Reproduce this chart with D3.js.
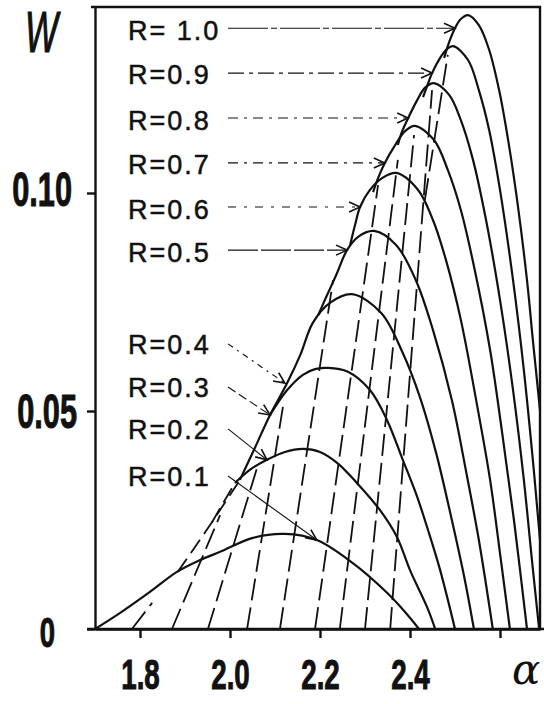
<!DOCTYPE html>
<html>
<head>
<meta charset="utf-8">
<script src="https://cdn.jsdelivr.net/npm/d3@7"></script>
<style>
html, body { margin: 0; padding: 0; background: #fff; }
svg { display: block; }
</style>
</head>
<body>
<div id="chart"></div>
<script>
// family parameter R, one arch per value
var rValues = [0.1, 0.2, 0.3, 0.4, 0.5, 0.6, 0.7, 0.8, 0.9, 1.0];
var rLabels = ['R=0.1', 'R=0.2', 'R=0.3', 'R=0.4', 'R=0.5', 'R=0.6', 'R=0.7', 'R=0.8', 'R=0.9', 'R= 1.0'];

// arches, [alpha, W]
var arch01 = [[1.700,0],[1.756,0.0037],[1.822,0.0085],[1.882,0.0131],[1.933,0.0158],[1.978,0.0177],[2.051,0.0209],[2.122,0.0218],[2.193,0.0204],[2.273,0.0151],[2.349,0.0083],[2.389,0.0039],[2.420,0]];
var arch02 = [[2.011,0.0335],[2.044,0.0365],[2.082,0.0388],[2.122,0.0406],[2.162,0.0413],[2.200,0.0406],[2.238,0.0381],[2.282,0.0335],[2.333,0.0273],[2.371,0.0211],[2.400,0.0135],[2.438,0.0050],[2.456,0]];
var arch03 = [[2.089,0.0491],[2.127,0.0548],[2.162,0.0583],[2.189,0.0596],[2.218,0.0599],[2.262,0.0590],[2.311,0.0548],[2.349,0.0479],[2.384,0.0388],[2.416,0.0303],[2.440,0.0227],[2.467,0.0135],[2.500,0]];
var arch04 = [[2.022,0.0342],[2.056,0.0417],[2.089,0.0491],[2.127,0.0564],[2.156,0.0628],[2.184,0.0702],[2.222,0.0748],[2.271,0.0768],[2.336,0.0725],[2.384,0.0633],[2.422,0.0532],[2.458,0.0404],[2.493,0.0250],[2.522,0.0112],[2.542,0]];
var arch05 = [[2.196,0.0720],[2.211,0.0755],[2.236,0.0812],[2.260,0.0869],[2.284,0.0899],[2.320,0.0913],[2.369,0.0881],[2.413,0.0800],[2.451,0.0686],[2.493,0.0525],[2.524,0.0365],[2.553,0.0204],[2.584,0]];
var arch06 = [[2.267,0.0881],[2.278,0.0927],[2.289,0.0968],[2.311,0.1007],[2.338,0.1034],[2.369,0.1046],[2.418,0.1007],[2.451,0.0938],[2.480,0.0846],[2.513,0.0709],[2.547,0.0525],[2.578,0.0342],[2.602,0.0158],[2.622,0]];
var arch07 = [[2.318,0.1002],[2.329,0.1034],[2.344,0.1069],[2.367,0.1110],[2.389,0.1142],[2.411,0.1154],[2.453,0.1122],[2.484,0.1053],[2.513,0.0961],[2.544,0.0823],[2.578,0.0640],[2.604,0.0456],[2.631,0.0250],[2.660,0]];
var arch08 = [[2.373,0.1110],[2.382,0.1140],[2.396,0.1172],[2.416,0.1213],[2.433,0.1241],[2.453,0.1252],[2.487,0.1225],[2.513,0.1167],[2.540,0.1076],[2.569,0.0938],[2.600,0.0755],[2.629,0.0548],[2.653,0.0342],[2.671,0.0158],[2.687,0]];
var arch09 = [[2.429,0.1220],[2.438,0.1245],[2.449,0.1275],[2.467,0.1310],[2.482,0.1330],[2.496,0.1337],[2.529,0.1305],[2.553,0.1236],[2.576,0.1144],[2.600,0.1007],[2.629,0.0800],[2.653,0.0594],[2.673,0.0388],[2.689,0.0204],[2.702,0.0067]];
var arch10 = [[2.476,0.1310],[2.487,0.1346],[2.500,0.1378],[2.513,0.1399],[2.529,0.1408],[2.553,0.1385],[2.576,0.1328],[2.598,0.1236],[2.618,0.1122],[2.638,0.0984],[2.660,0.0800],[2.673,0.0663],[2.691,0.0479],[2.707,0.0296]];
var arches = [arch01, arch02, arch03, arch04, arch05, arch06, arch07, arch08, arch09, arch10];

// dashed lower continuations of the left flanks
var tailEnvelope = [[1.884,0.0131],[1.956,0.0239],[2.022,0.0342]];
var tail02 = [[1.960,0.0245],[1.982,0.0284],[2.011,0.0335]];

// dashed hatching lines, [start, end]
var hatchLines = [
	[[1.782,0],[1.827,0.0060]],
	[[1.871,0],[1.978,0.0261]],
	[[1.951,0],[2.062,0.0376]],
	[[2.038,0],[2.120,0.0525]],
	[[2.111,0],[2.229,0.0800]],
	[[2.189,0],[2.329,0.1018]],
	[[2.244,0],[2.373,0.1076]],
	[[2.300,0],[2.409,0.1133]],
	[[2.356,0],[2.449,0.1236]],
	[[2.433,0.0984],[2.484,0.1317]]
];

// label rows (W) and the points the arrows touch
var labelW = [0.0351, 0.0459, 0.0555, 0.0654, 0.0865, 0.0963, 0.1067, 0.1167, 0.1273, 0.1374];
var arrowTips = [[2.193,0.0204],[2.082,0.0388],[2.089,0.0491],[2.122,0.0564],[2.260,0.0869],[2.289,0.0968],[2.344,0.1069],[2.396,0.1172],[2.449,0.1275],[2.500,0.1378]];

var xTicks = [1.8, 2.0, 2.2, 2.4, 2.6];
var xTickLabels = ['1.8', '2.0', '2.2', '2.4', ''];
var yTicks = [0, 0.05, 0.10];
var yTickLabels = ['0', '0.05', '0.10'];

var chartWidth = 544, chartHeight = 704;
var plotLeft = 95, plotRight = 540, plotTop = 7, plotBottom = 629;

var svg = d3.select('#chart')
	.append('svg')
	.attr('width', chartWidth)
	.attr('height', chartHeight);

var x = d3.scaleLinear().domain([1.7, 2.6889]).range([plotLeft, plotRight]);
var y = d3.scaleLinear().domain([0, 0.14266]).range([plotBottom, plotTop]);

var ink = '#111';

var defs = svg.append('defs');
defs.append('clipPath')
	.attr('id', 'plot')
	.append('rect')
	.attr('x', plotLeft).attr('y', plotTop)
	.attr('width', plotRight - plotLeft).attr('height', plotBottom - plotTop);

defs.append('marker')
	.attr('id', 'head')
	.attr('markerUnits', 'userSpaceOnUse')
	.attr('viewBox', '-12 -6 14 12')
	.attr('markerWidth', 14).attr('markerHeight', 12)
	.attr('refX', 0).attr('refY', 0)
	.attr('orient', 'auto')
	.append('path')
	.attr('d', 'M-11,-5 L0,0 L-11,5')
	.attr('fill', 'none')
	.attr('stroke', ink)
	.attr('stroke-width', 1.6);

var plot = svg.append('g').attr('clip-path', 'url(#plot)');

var smooth = d3.line()
	.x(function(d){ return x(d[0]); })
	.y(function(d){ return y(d[1]); })
	.curve(d3.curveCatmullRom.alpha(0.5));

var straight = d3.line()
	.x(function(d){ return x(d[0]); })
	.y(function(d){ return y(d[1]); });

// hatching
plot.selectAll('.hatch')
	.data(hatchLines)
	.enter()
	.append('path')
	.attr('class', 'hatch')
	.attr('d', straight)
	.attr('fill', 'none')
	.attr('stroke', ink)
	.attr('stroke-width', 1.8)
	.attr('stroke-dasharray', '22,7');

// dashed tails
plot.selectAll('.tail')
	.data([tailEnvelope, tail02])
	.enter()
	.append('path')
	.attr('class', 'tail')
	.attr('d', smooth)
	.attr('fill', 'none')
	.attr('stroke', ink)
	.attr('stroke-width', 1.8)
	.attr('stroke-dasharray', '16,7');

// arches
plot.selectAll('.arch')
	.data(arches)
	.enter()
	.append('path')
	.attr('class', 'arch')
	.attr('d', smooth)
	.attr('fill', 'none')
	.attr('stroke', ink)
	.attr('stroke-width', 2.2);

// labels and arrows
var labelX = 128, arrowX = 228;
var arrowDash = ['none', 'none', '9,4', '6,5,2,5', '30,3', '8,8,3,8', '10,6,3,6', '10,6,3,6', '16,5,4,5', '40,3,6,3'];

svg.selectAll('.pointer')
	.data(arrowTips)
	.enter()
	.append('line')
	.attr('class', 'pointer')
	.attr('x1', arrowX)
	.attr('y1', function(d, i){ return i >= 4 ? y(d[1]) : y(labelW[i]); })
	.attr('x2', function(d){ return x(d[0]); })
	.attr('y2', function(d){ return y(d[1]); })
	.attr('stroke', ink)
	.attr('stroke-width', 1.1)
	.attr('stroke-dasharray', function(d, i){ return arrowDash[i]; })
	.attr('marker-end', 'url(#head)');

svg.selectAll('.rlabel')
	.data(rLabels)
	.enter()
	.append('text')
	.attr('class', 'rlabel')
	.attr('x', labelX)
	.attr('y', function(d, i){ return y(labelW[i]); })
	.attr('dy', '0.36em')
	.attr('font-family', 'Liberation Sans, Arial, sans-serif')
	.attr('font-size', 27)
	.attr('letter-spacing', 2)
	.attr('fill', ink)
	.attr('stroke', ink)
	.attr('stroke-width', 0.5)
	.text(function(d){ return d; });

// axes
var yAxis = d3.axisLeft(y)
	.tickValues(yTicks)
	.tickFormat(function(d, i){ return yTickLabels[i]; })
	.tickSize(8)
	.tickSizeOuter(0);

var gy = svg.append('g')
	.attr('transform', 'translate(' + plotLeft + ',0)')
	.call(yAxis);

var yRight = [-40, -18, -23];
var yShift = [2, -1, -5];
var ySx = 0.64;
gy.selectAll('text')
	.attr('font-family', 'Liberation Sans, Arial, sans-serif')
	.attr('font-weight', 700)
	.attr('font-size', function(d, i){ return i === 0 ? 43 : 48; })
	.attr('fill', ink)
	.attr('stroke', ink)
	.attr('stroke-width', 1)
	.attr('x', function(d, i){ return yRight[i] / ySx; })
	.attr('y', function(d, i){ return yShift[i]; })
	.attr('dy', '0.36em')
	.attr('transform', 'scale(' + ySx + ',1)');

var xAxis = d3.axisBottom(x)
	.tickValues(xTicks)
	.tickFormat(function(d, i){ return xTickLabels[i]; })
	.tickSize(9)
	.tickSizeOuter(0);

var gx = svg.append('g')
	.attr('transform', 'translate(0,' + plotBottom + ')')
	.call(xAxis);

gx.selectAll('text')
	.attr('font-family', 'Liberation Sans, Arial, sans-serif')
	.attr('font-weight', 700)
	.attr('font-size', 42)
	.attr('fill', ink)
	.attr('stroke', ink)
	.attr('stroke-width', 1)
	.attr('y', 30)
	.attr('dy', '0.71em')
	.attr('transform', 'scale(0.66,1)');

svg.selectAll('.domain, .tick line')
	.attr('stroke', ink)
	.attr('stroke-width', 2.4);

// frame
svg.append('path')
	.attr('d', 'M' + (plotLeft - 4) + ',' + plotTop + 'H' + plotRight + 'V' + plotBottom)
	.attr('fill', 'none')
	.attr('stroke', ink)
	.attr('stroke-width', 2.4);
svg.append('line')
	.attr('x1', plotLeft - 8).attr('x2', chartWidth)
	.attr('y1', plotBottom).attr('y2', plotBottom)
	.attr('stroke', ink)
	.attr('stroke-width', 2.6);

// axis titles
svg.append('text')
	.attr('x', 25 / 0.6)
	.attr('y', 52)
	.attr('transform', 'scale(0.6,1)')
	.attr('font-family', 'Liberation Sans, Arial, sans-serif')
	.attr('font-style', 'italic')
	.attr('font-size', 58)
	.attr('fill', ink)
	.attr('stroke', ink)
	.attr('stroke-width', 1.2)
	.text('W');

svg.append('text')
	.attr('x', 512)
	.attr('y', 684)
	.attr('font-family', 'DejaVu Serif, serif')
	.attr('font-style', 'italic')
	.attr('font-size', 42)
	.attr('fill', ink)
	.text('α');
</script>
</body>
</html>
